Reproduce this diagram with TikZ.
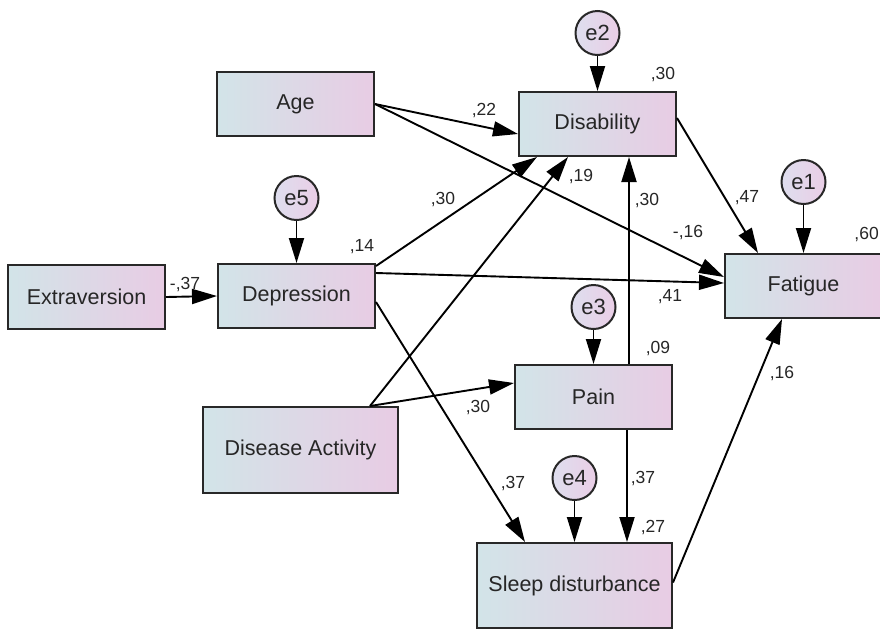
\documentclass[tikz,border=0pt]{standalone}
\usepackage{fontspec}
\setmainfont{Liberation Sans}
\usetikzlibrary{arrows.meta}
\definecolor{boxL}{RGB}{210,228,232}
\definecolor{boxR}{RGB}{232,204,228}
\definecolor{cirL}{RGB}{222,222,238}
\definecolor{cirR}{RGB}{234,206,230}
\definecolor{edge}{RGB}{40,40,40}
\begin{document}
\begin{tikzpicture}[x=1pt,y=-1pt,
  varbox/.style={draw=edge,line width=2pt,left color=boxL,right color=boxR,
    minimum width=157pt,minimum height=64pt,inner sep=0pt,
    font=\fontsize{21.5}{24}\selectfont,text=black!85},
  bigbox/.style={varbox,minimum width=195pt,minimum height=86pt},
  errc/.style={circle,draw=edge,line width=2pt,left color=cirL,right color=cirR,
    minimum size=44pt,inner sep=0pt,font=\fontsize{22}{24}\selectfont,text=black!85},
  coef/.style={font=\fontsize{17.5}{20}\selectfont,text=black!85,inner sep=0pt},
  path/.style={draw=black,line width=1.9pt,-{Triangle[length=25pt,width=15pt]}}
]
\useasboundingbox (0,0) rectangle (880,630);

% variables
\node[varbox] (age) at (295.5,104) {Age};
\node[varbox] (dis) at (597.5,124) {Disability};
\node[varbox] (ext) at (86.5,297) {Extraversion};
\node[varbox] (dep) at (296.5,296) {Depression};
\node[varbox] (fat) at (803.5,286) {Fatigue};
\node[varbox] (pain) at (593.5,397) {Pain};
\node[bigbox] (da) at (300.5,450) {Disease Activity};
\node[bigbox,minimum height=85pt] (sleep) at (574.5,585.5) {Sleep disturbance};

% error terms
\node[errc] (e2) at (597.5,33) {e2};
\node[errc] (e5) at (296.5,198) {e5};
\node[errc] (e1) at (803.5,182) {e1};
\node[errc] (e3) at (593.5,307) {e3};
\node[errc] (e4) at (574.5,478) {e4};

% paths
\draw[path] (age.east) -- ([yshift=-10pt]dis.west);
\draw[path] (age.east) -- ([yshift=9pt]fat.west);
\draw[path] (e2) -- (dis.north);
\draw[path] ([yshift=6pt]dis.east) -- ([xshift=-45.5pt]fat.north);
\draw[path] (e1) -- (fat.north);
\draw[path] (ext.east) -- (dep.west);
\draw[path] (e5) -- (dep.north);
\draw[path] ([yshift=-3pt]dep.north east) -- ([xshift=-60.5pt]dis.south);
\draw[path] ([yshift=-10pt]dep.north east) -- ([yshift=3pt]fat.west);
\draw[path] ([yshift=-6pt]dep.east) -- ([xshift=-49.5pt]sleep.north);
\draw[path] ([xshift=69.5pt]da.north) -- ([xshift=-29.5pt]dis.south);
\draw[path] ([xshift=69.5pt]da.north) -- ([yshift=14pt]pain.west);
\draw[path] ([xshift=35.5pt]pain.north) -- ([xshift=31.5pt]dis.south);
\draw[path] (e3) -- (pain.north);
\draw[path] ([xshift=33.5pt]pain.south) -- ([xshift=52.5pt]sleep.north);
\draw[path] (e4) -- (sleep.north);
\draw[path] ([yshift=3pt]sleep.east) -- ([xshift=-21.5pt]fat.south);

% coefficients
\node[coef] (c1) at (484,111) {,22};
\node[coef] (c2) at (663,75) {,30};
\node[coef] (c3) at (581,177) {,19};
\node[coef] (c4) at (647,201) {,30};
\node[coef] (c5) at (747,198) {,47};
\node[coef] (c6) at (688,233) {-,16};
\node[coef,anchor=east] (c7) at (879,235) {,60};
\node[coef] (c8) at (670,297) {,41};
\node[coef] (c9) at (443,200) {,30};
\node[coef] (c10) at (362,247) {,14};
\node[coef] (c11) at (185,285) {-,37};
\node[coef] (c12) at (658,349) {,09};
\node[coef] (c13) at (478,407) {,30};
\node[coef] (c14) at (513,483) {,37};
\node[coef] (c15) at (643,478) {,37};
\node[coef] (c16) at (653,527) {,27};
\node[coef] (c17) at (782,373) {,16};
\end{tikzpicture}
\end{document}
